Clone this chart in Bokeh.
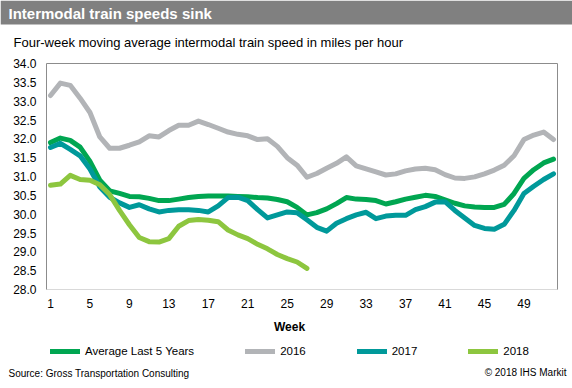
from bokeh.plotting import figure
from bokeh.layouts import column
from bokeh.models import (Range1d, FixedTicker, NumeralTickFormatter, Label, Legend,
                          LegendItem, BoxAnnotation, LinearAxis)
from bokeh.embed import file_html
from bokeh.resources import INLINE

weeks = list(range(1, 53))
avg5 = [31.90, 32.02, 31.96, 31.78, 31.40, 30.90, 30.62, 30.55, 30.47, 30.46,
        30.42, 30.36, 30.36, 30.40, 30.44, 30.47, 30.48, 30.48, 30.48, 30.47,
        30.46, 30.44, 30.43, 30.39, 30.33, 30.18, 29.98, 30.04, 30.14, 30.28,
        30.44, 30.40, 30.39, 30.36, 30.27, 30.33, 30.40, 30.45, 30.50, 30.47,
        30.38, 30.29, 30.22, 30.19, 30.18, 30.18, 30.26, 30.55, 30.95, 31.18,
        31.36, 31.46]
y2016 = [33.15, 33.48, 33.42, 33.08, 32.70, 32.05, 31.75, 31.75, 31.83, 31.92,
         32.08, 32.05, 32.22, 32.36, 32.36, 32.47, 32.38, 32.28, 32.18, 32.12,
         32.08, 31.98, 32.00, 31.80, 31.50, 31.30, 30.98, 31.08, 31.22, 31.35,
         31.52, 31.28, 31.20, 31.12, 31.04, 31.07, 31.15, 31.20, 31.22, 31.18,
         31.05, 30.96, 30.95, 30.99, 31.07, 31.17, 31.30, 31.55, 31.98, 32.10,
         32.18, 31.98]
y2017 = [31.77, 31.88, 31.72, 31.55, 31.20, 30.72, 30.45, 30.30, 30.18, 30.25,
         30.14, 30.06, 30.10, 30.12, 30.12, 30.10, 30.06, 30.22, 30.44, 30.45,
         30.36, 30.12, 29.90, 29.98, 30.06, 30.04, 29.85, 29.65, 29.55, 29.76,
         29.88, 29.98, 30.05, 29.88, 29.95, 29.97, 29.97, 30.12, 30.20, 30.32,
         30.33, 30.10, 29.90, 29.70, 29.62, 29.60, 29.73, 30.10, 30.55, 30.74,
         30.92, 31.07]
weeks2018 = list(range(1, 28))
y2018 = [30.77, 30.80, 31.03, 30.92, 30.90, 30.78, 30.52, 30.10, 29.72, 29.38,
         29.27, 29.26, 29.35, 29.68, 29.83, 29.86, 29.84, 29.80, 29.58, 29.45,
         29.35, 29.20, 29.08, 28.93, 28.82, 28.73, 28.56]
x_ticks = [1, 5, 9, 13, 17, 21, 25, 29, 33, 37, 41, 45, 49]
y_ticks = [28.0, 28.5, 29.0, 29.5, 30.0, 30.5, 31.0, 31.5, 32.0, 32.5, 33.0, 33.5, 34.0]
series_names = ["Average Last 5 Years", "2016", "2017", "2018"]
colors = ["#00A651", "#B2B4B7", "#00999A", "#8DC63F"]

FONT = "Liberation Sans"
W = 572


def blank_fig(top, bottom):
    f = figure(width=W, height=bottom - top, output_backend="svg", toolbar_location=None,
               x_range=Range1d(0, W), y_range=Range1d(bottom, top),
               x_axis_type=None, y_axis_type=None, min_border=0, frame_align=False)
    f.outline_line_color = None
    f.background_fill_color = "white"
    f.border_fill_color = "white"
    return f


def lab(x, y, text, size, bold=False, align="left", color="#000000"):
    return Label(x=x, y=y, text=text, text_font=FONT, text_font_size=size,
                 text_font_style="bold" if bold else "normal",
                 text_align=align, text_baseline="middle", text_color=color)


# ---------- header ----------
head = blank_fig(0, 50)
head.add_layout(BoxAnnotation(left=0, right=W, top=0, bottom=24, fill_color="#808080",
                              fill_alpha=1, line_color=None))
head.add_layout(lab(8, 12.5, "Intermodal train speeds sink", "15px", bold=True, color="white"))
head.add_layout(lab(13, 42, "Four-week moving average intermodal train speed in miles per hour", "13px"))

# ---------- main chart ----------
p = figure(width=W, height=265, output_backend="svg", toolbar_location=None,
           x_range=Range1d(0.594, 52.406), y_range=Range1d(28, 34), frame_align=False,
           min_border_left=46, min_border_right=15, min_border_top=13, min_border_bottom=26)
p.background_fill_color = "white"
p.border_fill_color = "white"
p.grid.visible = False
p.outline_line_color = None

p.xaxis.ticker = FixedTicker(ticks=x_ticks)
p.yaxis.ticker = FixedTicker(ticks=y_ticks)
p.yaxis.formatter = NumeralTickFormatter(format="0.0")
for ax in (p.xaxis[0], p.yaxis[0]):
    ax.major_tick_line_color = None
    ax.minor_tick_line_color = None
    ax.major_tick_out = 0
    ax.major_tick_in = 0
    ax.major_label_text_font = FONT
    ax.major_label_text_font_size = "12px"
    ax.major_label_text_color = "#000000"
p.xaxis.axis_line_color = "#D9D9D9"
p.yaxis.axis_line_color = "#8C8C8C"
p.xaxis.major_label_standoff = 9
p.yaxis.major_label_standoff = 10

for side in ("above", "right"):
    edge = LinearAxis(ticker=FixedTicker(ticks=[]), axis_line_color="#8C8C8C",
                      major_tick_out=0, major_tick_in=0, minor_tick_out=0,
                      major_label_standoff=0)
    p.add_layout(edge, side)

for xs, ys, c in zip([weeks, weeks, weeks, weeks2018], [avg5, y2016, y2017, y2018], colors):
    p.line(xs, ys, line_color=c, line_width=5, line_join="round", line_cap="round")

# ---------- footer ----------
foot = blank_fig(315, 388)
foot.add_layout(lab(289, 326, "Week", "12px", bold=True, align="center"))
foot.add_layout(lab(8, 373, "Source: Gross Transportation Consulting", "10px"))
foot.add_layout(lab(566, 372, "\u00a9 2018 IHS Markit", "10px", align="right"))

# legend keys: invisible (NaN) lines that only lend their style to the legend
keys = [foot.line([float("nan")], [float("nan")], line_color=c, line_width=5, line_cap="round")
        for c in colors]
legend = Legend(items=[LegendItem(label=n, renderers=[r]) for n, r in zip(series_names, keys)],
                orientation="horizontal", location=(50, 30),
                glyph_width=30, glyph_height=14, label_height=14, label_standoff=5, spacing=51,
                padding=0, margin=0, border_line_alpha=0, background_fill_alpha=0,
                label_text_font=FONT, label_text_font_size="11.5px", label_text_baseline="middle",
                label_text_color="#000000")
foot.add_layout(legend)

page = column(head, p, foot, spacing=0)
open("out.html", "w").write(file_html(page, INLINE))
